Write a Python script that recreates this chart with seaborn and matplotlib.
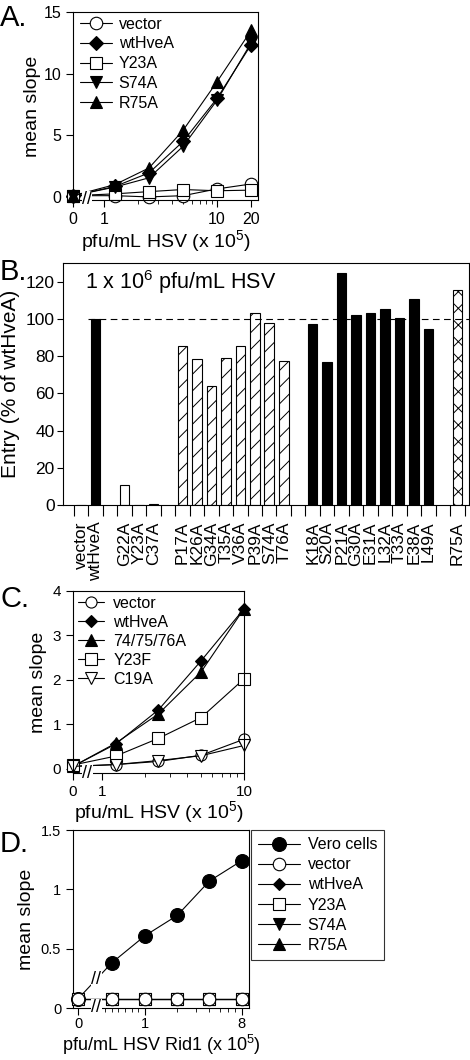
import numpy as np
import pandas as pd
import seaborn as sns
import matplotlib.pyplot as plt
from matplotlib.ticker import FixedLocator, FuncFormatter

##-----Panel A data (x 10^5 pfu/mL)-----##
dose_a = [0, 1.25, 2.5, 5, 10, 20]
a_vector = [0.1, 0.1, 0.0, 0.1, 0.65, 1.05]
a_wt = [0.1, 0.85, 1.95, 4.5, 8.0, 12.35]
a_y23a = [0.1, 0.25, 0.43, 0.6, 0.5, 0.55]
a_s74a = [0.1, 0.8, 1.55, 4.1, 7.85, 12.5]
a_r75a = [0.1, 1.0, 2.35, 5.4, 9.35, 13.5]

##-----Panel B data (% of wtHveA)-----##
b_labels = ['vector', 'wtHveA',
            'G22A', 'Y23A', 'C37A',
            'P17A', 'K26A', 'G34A', 'T35A', 'V36A', 'P39A', 'S74A', 'T76A',
            'K18A', 'S20A', 'P21A', 'G30A', 'E31A', 'L32A', 'T33A', 'E38A', 'L49A',
            'R75A']
b_values = [0, 100,
            10.5, 0, 0.8,
            85.4, 78.4, 63.8, 79.1, 85.4, 102.9, 97.7, 77.4,
            97.0, 76.6, 124.8, 102.0, 102.9, 105.2, 100.4, 110.9, 94.7,
            115.7]
b_groups = ['control'] * 2 + ['open'] * 3 + ['hatched'] * 8 + ['solid'] * 9 + ['cross']

##-----Panel C data-----##
dose_c = [0, 1.25, 2.5, 5, 10]
c_vector = [0.05, 0.09, 0.16, 0.3, 0.66]
c_wt = [0.05, 0.55, 1.32, 2.43, 3.6]
c_triple = [0.05, 0.57, 1.23, 2.18, 3.6]
c_y23f = [0.08, 0.28, 0.68, 1.15, 2.02]
c_c19a = [0.05, 0.09, 0.18, 0.29, 0.52]

##-----Panel D data (HSV Rid1)-----##
dose_d = [0, 0.5, 1, 2, 4, 8]
d_vero = [0.08, 0.38, 0.61, 0.78, 1.07, 1.24]
d_vector = [0.08, 0.08, 0.08, 0.08, 0.08, 0.08]
d_wt = [0.08, 0.08, 0.08, 0.08, 0.08, 0.08]
d_y23a = [0.08, 0.08, 0.08, 0.08, 0.08, 0.08]
d_s74a = [0.08, 0.08, 0.08, 0.08, 0.08, 0.08]
d_r75a = [0.08, 0.08, 0.08, 0.08, 0.08, 0.08]

sns.set_style('ticks', {'axes.edgecolor': 'black', 'xtick.color': 'black',
                        'ytick.color': 'black', 'text.color': 'black',
                        'axes.labelcolor': 'black'})
plt.rcParams['font.family'] = ['Liberation Sans', 'DejaVu Sans']
plt.rcParams['mathtext.fontset'] = 'custom'
plt.rcParams['mathtext.rm'] = 'Liberation Sans'
plt.rcParams['mathtext.it'] = 'Liberation Sans:italic'
plt.rcParams['mathtext.bf'] = 'Liberation Sans:bold'
plt.rcParams['axes.linewidth'] = 0.8
plt.rcParams['hatch.linewidth'] = 0.7

W, H = 470, 1060
fig = plt.figure(figsize=(W / 100, H / 100), dpi=100)


def px_axes(l, t, r, b):
    return fig.add_axes([l / W, 1 - b / H, (r - l) / W, (b - t) / H])


def series(ax, x, y, marker, filled, label, ms, z=2):
    sns.lineplot(x=x, y=y, ax=ax, color='black', linewidth=0.8, marker=marker,
                 markersize=ms, markerfacecolor='black' if filled else 'white',
                 markeredgecolor='black', markeredgewidth=0.8, label=label,
                 clip_on=False, zorder=z)


def axis_break(ax, xb, yb=0.0, data_y=False, size=13):
    tr = ax.transData if data_y else ax.get_xaxis_transform()
    ax.text(xb, yb, '//', transform=tr, ha='center', va='center', fontsize=size,
            clip_on=False, zorder=10,
            bbox=dict(facecolor='white', edgecolor='none', pad=0.2))


fmt_g = FuncFormatter(lambda v, p: '%g' % v)

##-----A-----##
axA = px_axes(73, 12, 258, 200)
series(axA, dose_a, a_vector, 'o', False, 'vector', 9)
series(axA, dose_a, a_wt, 'D', True, 'wtHveA', 7)
series(axA, dose_a, a_y23a, 's', False, 'Y23A', 9)
series(axA, dose_a, a_s74a, 'v', True, 'S74A', 9)
series(axA, dose_a, a_r75a, '^', True, 'R75A', 9)
axA.set_xscale('symlog', linthresh=1, linscale=0.247)
axA.set_xlim(0, 23)
axA.set_ylim(-0.25, 15)
axA.set_xticks([0, 1, 10, 20])
axA.xaxis.set_minor_locator(FixedLocator([2, 3, 4, 5, 6, 7, 8, 9]))
axA.xaxis.set_major_formatter(fmt_g)
axA.set_yticks([0, 5, 10, 15])
axA.tick_params(axis='both', which='major', labelsize=11.5, length=5, width=0.8)
axA.tick_params(axis='x', which='minor', length=3, width=0.6)
axA.set_ylabel('mean slope', fontsize=14, labelpad=2)
axA.set_xlabel('pfu/mL HSV (x 10$^5$)', fontsize=14, labelpad=1)
axA.legend(loc='upper left', bbox_to_anchor=(0.04, 0.975), frameon=False,
           fontsize=11.5, handlelength=2.0, handletextpad=0.4,
           labelspacing=0.3, borderpad=0, borderaxespad=0)
axis_break(axA, 0.45)

##-----B-----##
grp_order = ['control', 'open', 'hatched', 'solid', 'cross']
b_slot = [i + grp_order.index(g) for i, g in enumerate(b_groups)]
dfB = pd.DataFrame({'slot': b_slot, 'value': b_values, 'group': b_groups})
axB = px_axes(63, 263, 469, 505)
pal = {'control': 'black', 'open': 'white', 'hatched': 'white',
       'solid': 'black', 'cross': 'white'}
sns.barplot(data=dfB, x='slot', y='value', hue='group', hue_order=grp_order,
            palette=pal, native_scale=True, dodge=False, width=0.66,
            errorbar=None, edgecolor='black', linewidth=0.8, legend=False,
            saturation=1, ax=axB)
hatches = {'hatched': '//', 'cross': 'xx'}
for cont, g in zip(axB.containers, grp_order):
    for bar in cont:
        bar.set_hatch(hatches.get(g, ''))
axB.hlines(100, 0.5, 27, colors='black', linestyles=(0, (6, 4)), linewidth=0.8)
axB.set_xlim(-1.25, 26.8)
axB.set_ylim(0, 130)
axB.set_yticks(range(0, 121, 20))
axB.set_xticks(b_slot)
axB.set_xticklabels(b_labels, rotation=90, fontsize=12.5, va='top')
axB.xaxis.set_minor_locator(FixedLocator(np.arange(-0.5, 27, 1)))
axB.tick_params(axis='x', which='major', length=0, pad=12)
axB.tick_params(axis='x', which='minor', length=8, width=0.8)
axB.tick_params(axis='y', labelsize=12.5, length=4, width=0.8, pad=2)
axB.set_xlabel('')
axB.set_ylabel('Entry (% of wtHveA)', fontsize=15, labelpad=4)
axB.text(0.055, 0.92, '1 x 10$^6$ pfu/mL HSV', transform=axB.transAxes,
         fontsize=15.5, va='center', ha='left')

##-----C-----##
axC = px_axes(73, 591, 244, 773)
series(axC, dose_c, c_vector, 'o', False, 'vector', 8)
series(axC, dose_c, c_wt, 'D', True, 'wtHveA', 6)
series(axC, dose_c, c_triple, '^', True, '74/75/76A', 8)
series(axC, dose_c, c_y23f, 's', False, 'Y23F', 8)
series(axC, dose_c, c_c19a, 'v', False, 'C19A', 8)
axC.set_xscale('symlog', linthresh=1, linscale=0.182)
axC.set_xlim(0, 10)
axC.set_ylim(-0.1, 4)
axC.set_xticks([0, 1, 10])
axC.xaxis.set_minor_locator(FixedLocator([2, 3, 4, 5, 6, 7, 8, 9]))
axC.xaxis.set_major_formatter(fmt_g)
axC.set_yticks([0, 1, 2, 3, 4])
axC.tick_params(axis='both', which='major', labelsize=11, length=5, width=0.8)
axC.tick_params(axis='x', which='minor', length=3, width=0.6)
axC.set_ylabel('mean slope', fontsize=14, labelpad=4)
axC.set_xlabel('pfu/mL HSV (x 10$^5$)', fontsize=14, labelpad=0)
axC.legend(loc='upper left', bbox_to_anchor=(0.03, 0.975), frameon=False,
           fontsize=11.5, handlelength=1.6, handletextpad=0.6,
           labelspacing=0.25, borderpad=0, borderaxespad=0)
axis_break(axC, 0.5)

##-----D-----##
axD = px_axes(73, 830, 249, 1008)
series(axD, dose_d, d_vero, 'o', True, 'Vero cells', 10, z=2)
series(axD, dose_d, d_vector, 'o', False, 'vector', 9, z=6)
series(axD, dose_d, d_wt, 'D', True, 'wtHveA', 6, z=3)
series(axD, dose_d, d_y23a, 's', False, 'Y23A', 9, z=5)
series(axD, dose_d, d_s74a, 'v', True, 'S74A', 8, z=3)
series(axD, dose_d, d_r75a, '^', True, 'R75A', 8, z=3)
axD.set_xscale('symlog', linthresh=1, linscale=0.563)
axD.set_xlim(-0.08, 9.4)
axD.set_ylim(0, 1.5)
axD.set_xticks([0, 1, 8])
axD.xaxis.set_minor_locator(FixedLocator([0.4, 0.5, 0.6, 0.7, 0.8, 0.9, 2, 3, 4, 5, 6, 7]))
axD.xaxis.set_major_formatter(fmt_g)
axD.set_yticks([0, 0.5, 1, 1.5])
axD.yaxis.set_major_formatter(fmt_g)
axD.tick_params(axis='both', which='major', labelsize=10.5, length=5, width=0.8)
axD.tick_params(axis='x', which='major', pad=1.5)
axD.tick_params(axis='x', which='minor', length=3, width=0.6)
axD.set_ylabel('mean slope', fontsize=14, labelpad=4)
axD.set_xlabel('pfu/mL HSV Rid1 (x 10$^5$)', fontsize=13, labelpad=1)
legD = axD.legend(loc='upper left', bbox_to_anchor=(251 / W, 1 - 830 / H),
                  bbox_transform=fig.transFigure, frameon=True, fancybox=False,
                  fontsize=11.5, handlelength=2.6, handletextpad=0.5,
                  labelspacing=0.32, borderpad=0.45, borderaxespad=0)
legD.get_frame().set_edgecolor('black')
legD.get_frame().set_linewidth(0.8)
xb_d = 0.27
axis_break(axD, xb_d)
axis_break(axD, xb_d, float(np.interp(xb_d, dose_d[:2], d_vero[:2])), data_y=True)

##-----Panel letters-----##
for letter, top in [('A.', 4), ('B.', 258), ('C.', 585), ('D.', 830)]:
    fig.text(0.0, 1 - top / H, letter, fontsize=21, va='top', ha='left')

fig.savefig('out.png', dpi=100)
